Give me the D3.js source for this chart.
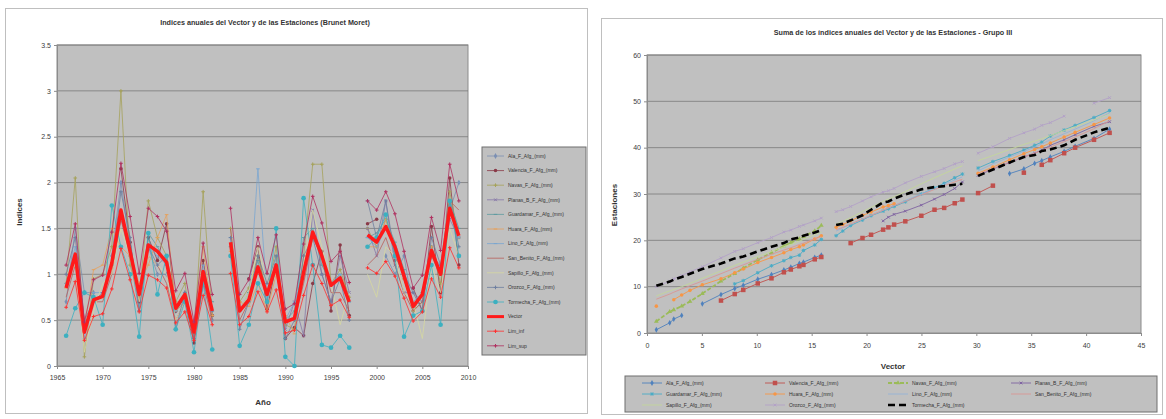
<!DOCTYPE html>
<html><head><meta charset="utf-8">
<script src="https://cdn.jsdelivr.net/npm/d3@7"></script>
<style>
body{margin:0;background:#fff;}
svg{display:block;font-family:"Liberation Sans",Arial,sans-serif;}
</style></head><body>
<svg id="c" width="1166" height="419"></svg>
<script>
// ---------- DATA (left chart: annual indices) ----------
const years = [1966,1967,1968,1969,1970,1971,1972,1973,1974,1975,1976,1977,1978,1979,1980,1981,1982,
  1984,1985,1986,1987,1988,1989,1990,1991,1992,1993,1994,1995,1996,1997,
  1999,2000,2001,2002,2003,2004,2005,2006,2007,2008,2009];
const stationNames = ["Ala_F_Afg_(mm)","Valencia_F_Afg_(mm)","Navas_F_Afg_(mm)","Planas_B_F_Afg_(mm)",
  "Guardamar_F_Afg_(mm)","Huara_F_Afg_(mm)","Lino_F_Afg_(mm)","San_Benito_F_Afg_(mm)",
  "Sapillo_F_Afg_(mm)","Orozco_F_Afg_(mm)","Tormecha_F_Afg_(mm)"];
const N = null;
const alaIdx = [0.7,1.5,0.8,0.8,N,1.2,2.0,1.3,0.7,1.3,1.0,1.0,0.6,0.8,0.3,1.0,0.5, N,N,N,N,N,N,N,N,N,N,N,N,N,N, N,N,1.2,1.0,1.2,0.6,0.8,1.2,1.1,1.7,2.0];
const valenciaIdx = [N,N,N,N,N,N,2.15,1.35,0.7,1.4,1.15,1.55,0.6,0.75,0.25,1.15,0.55, N,N,0.95,1.3,0.62,1.1,0.3,0.42,0.33,0.9,1.25,0.6,1.32,0.55, 1.55,1.6,N,1.15,N,0.85,0.6,1.52,0.8,2.05,1.1];
const navasIdx = [0.9,2.05,0.1,0.95,1.0,1.3,3.0,1.1,0.75,1.8,1.4,1.2,0.7,0.9,0.3,1.9,0.55, 1.5,0.7,0.85,1.2,0.8,1.3,0.45,0.4,1.2,2.2,2.2,0.9,1.05,0.75, 1.5,1.3,1.6,1.25,0.95,0.6,0.7,1.3,0.9,1.9,1.4];
const planasIdx = [N,N,N,N,N,N,N,N,N,N,N,N,N,N,N,N,N, N,N,N,N,N,1.2,0.4,0.7,0.33,1.7,1.0,0.7,1.2,0.8, 1.5,1.2,1.8,1.1,0.8,0.8,0.7,1.3,1.0,1.6,1.4];
const guardamarIdx = [N,N,N,N,N,N,N,1.2,0.6,1.45,1.3,1.1,0.6,0.7,0.35,0.9,0.7, 1.3,0.6,0.8,1.15,0.7,1.2,0.5,0.6,1.4,1.5,1.1,0.9,1.0,0.7, 1.4,1.45,1.6,1.35,1.05,0.6,0.8,1.3,1.0,1.8,1.5];
const huaraIdx = [0.85,1.2,0.4,1.05,1.1,1.5,1.3,1.2,0.9,1.1,1.4,1.65,0.6,0.7,0.4,1.3,0.55, 1.25,0.7,0.65,0.9,0.6,1.0,0.55,0.35,N,N,N,N,N,N, 1.3,1.3,1.6,1.3,0.95,0.6,0.8,1.3,1.0,1.7,1.4];
const linoIdx = [0.9,1.3,0.3,0.8,0.8,1.1,1.6,1.3,0.8,1.3,1.2,1.1,0.6,0.8,0.4,1.1,0.6, 1.4,0.6,0.7,2.15,0.75,1.1,0.5,0.7,1.0,1.4,1.2,0.9,1.0,0.7, 1.4,1.3,1.5,1.3,1.0,0.7,0.8,1.25,1.05,1.7,1.4];
const sanBenitoIdx = [0.75,1.1,0.35,0.7,0.7,1.0,1.6,1.2,0.7,1.2,1.1,0.9,0.5,0.7,0.3,0.9,0.5, 1.5,0.5,0.7,1.1,0.8,1.1,0.5,0.5,0.9,1.4,1.2,0.8,0.8,0.6, 1.1,1.2,1.4,1.1,0.8,0.6,0.7,1.2,1.0,1.8,1.7];
const sapilloIdx = [1.0,1.1,0.15,0.6,0.9,1.0,1.5,1.2,0.7,1.2,1.1,1.0,0.5,0.7,0.4,1.0,0.6, 1.2,0.6,0.8,1.3,0.9,1.2,0.5,0.5,1.1,1.7,1.3,0.9,0.45,0.8, 1.0,0.75,1.3,1.2,0.8,0.7,0.3,1.1,0.8,1.5,1.2];
const orozcoIdx = [1.0,1.4,0.5,0.7,0.8,1.1,1.9,1.4,0.6,1.3,1.1,1.2,0.4,0.8,0.3,0.9,0.6, 1.4,0.4,0.7,1.2,0.9,1.2,0.3,0.5,1.2,1.4,1.0,0.7,0.95,0.5, 1.8,1.4,1.8,1.2,1.0,0.8,0.6,1.4,1.1,1.8,1.3];
const tormechaIdx = [0.33,0.63,0.8,0.75,0.45,1.75,1.3,1.0,0.32,1.45,0.78,1.2,0.4,0.7,0.15,0.9,0.18, 1.2,0.22,0.45,0.9,0.7,1.5,0.1,0.0,1.83,1.1,0.23,0.2,0.33,0.2, 1.3,1.4,1.65,1.2,0.32,0.55,0.6,1.1,0.45,1.8,1.2];
const vectorIdx = [0.85,1.22,0.37,0.72,0.76,1.12,1.70,1.25,0.78,1.32,1.25,1.13,0.63,0.78,0.37,1.03,0.60, 1.35,0.60,0.72,1.08,0.78,1.10,0.48,0.52,1.02,1.46,1.20,0.88,0.96,0.70, 1.43,1.35,1.52,1.30,0.98,0.65,0.78,1.26,1.00,1.72,1.42];
const limInf = [0.64,0.92,0.28,0.54,0.57,0.84,1.28,0.94,0.59,0.99,0.94,0.85,0.47,0.59,0.28,0.77,0.45, 1.01,0.45,0.54,0.81,0.59,0.83,0.36,0.39,0.77,1.10,0.90,0.66,0.72,0.53, 1.07,1.01,1.14,0.98,0.74,0.49,0.59,0.95,0.75,1.29,1.07];
const limSup = [1.10,1.55,0.48,0.94,0.99,1.46,2.21,1.63,1.01,1.72,1.63,1.47,0.82,1.01,0.48,1.34,0.78, 1.72,0.78,0.94,1.40,1.01,1.43,0.62,0.68,1.33,1.85,1.56,1.14,1.25,0.91, 1.80,1.70,1.90,1.66,1.25,0.85,0.99,1.62,1.26,2.20,1.80];
const leftYTicks = [0,0.5,1,1.5,2,2.5,3,3.5];
const leftXTicks = [1965,1970,1975,1980,1985,1990,1995,2000,2005,2010];

// ---------- DATA (right chart: cumulative sums) ----------
const vectorCum = [0.85,2.07,2.44,3.16,3.92,5.04,6.74,7.99,8.77,10.09,11.34,12.47,13.10,13.88,14.25,15.28,15.88,
  17.23,17.83,18.55,19.63,20.41,21.51,21.99,22.51,23.53,24.99,26.19,27.07,28.03,28.73,
  30.16,31.51,33.03,34.33,35.31,35.96,36.74,38.00,39.00,40.72,42.14];
const alaCum = [0.7,2.2,3.0,3.8,N,6.3,8.3,9.6,10.3,11.6,12.6,13.6,14.2,15.0,15.3,16.3,16.8, N,N,N,N,N,N,N,N,N,N,N,N,N,N, N,N,34.4,35.4,36.6,37.2,38.0,39.2,40.3,42.0,44.0];
const valenciaCum = [N,N,N,N,N,N,7.0,8.4,9.3,10.7,11.8,13.1,13.7,14.4,14.7,15.9,16.4, N,N,19.4,20.5,21.2,22.3,22.8,23.4,24.1,25.3,26.6,27.0,28.0,28.8, 30.2,31.8,N,34.6,N,36.3,37.3,38.8,40.0,41.7,43.2];
const navasCum = [2.5,4.6,5.0,5.8,6.8,8.5,11.2,12.8,14.0,15.8,17.3,18.8,19.5,20.3,20.8,22.0,23.2, N,N,N,N,N,N,N,N,N,N,N,N,N,N, N,N,N,N,N,N,N,N,N,N,N];
const planasCum = [N,N,N,N,N,N,N,N,N,N,N,N,N,N,N,N,N, N,N,N,N,N,24.2,25.0,25.6,26.3,27.6,28.9,29.9,31.2,32.6, 34.0,35.4,36.8,38.0,38.8,39.5,40.5,41.7,42.8,44.6,45.6];
const guardamarCum = [N,N,N,N,N,N,N,10.6,11.3,13.0,14.5,15.6,16.3,16.8,17.8,19.0,20.2, 21.0,22.0,23.2,24.4,25.3,26.3,26.8,27.3,28.3,30.0,31.3,32.3,33.5,34.3, 35.6,37.0,38.3,39.5,40.5,41.2,42.5,43.8,44.8,46.5,48.0];
const huaraCum = [5.8,N,7.2,8.2,9.2,10.4,11.7,13.0,13.8,15.2,16.3,17.3,18.0,18.6,19.0,20.3,21.0, 22.8,23.4,24.2,25.4,26.1,27.2,27.5,27.9,N,N,N,N,N,N, 34.5,35.8,37.4,38.7,39.6,40.2,41.0,42.3,43.3,45.0,46.4];
const linoCum = [N,N,N,N,N,N,N,N,N,N,N,N,N,N,N,N,N, 22.0,22.7,23.5,24.6,25.4,26.5,27.0,27.5,28.6,30.0,31.2,32.1,33.0,33.7, 35.0,36.5,38.0,39.2,40.1,40.8,41.7,43.0,44.0,45.8,47.5];
const sanBenitoCum = [7.3,8.4,8.8,9.5,10.2,11.2,12.8,14.0,14.7,15.9,17.0,17.9,18.4,19.1,19.4,20.3,20.8, 22.3,22.8,23.5,24.6,25.4,26.5,27.0,27.5,28.4,29.8,31.0,31.8,32.6,33.2, 34.3,35.5,36.9,38.0,38.8,39.4,40.1,41.3,42.3,44.1,45.8];
const sapilloCum = [8.0,9.1,9.4,10.0,10.7,11.8,13.4,14.6,15.3,16.5,17.6,18.6,19.1,19.8,20.2,21.2,21.8, 23.5,24.1,24.9,26.2,27.1,28.4,28.9,29.4,30.5,32.2,33.5,34.4,35.4,36.1, 37.2,38.3,39.6,40.7,41.4,41.9,42.6,43.7,44.5,46.0,47.2];
const orozcoCum = [10.0,11.2,11.7,12.4,13.2,14.3,16.2,17.6,18.2,19.5,20.6,21.8,22.2,23.0,23.3,24.2,24.8, 26.2,26.6,27.3,28.5,29.4,30.4,30.7,31.2,32.4,33.8,34.8,35.5,36.5,37.0, 38.8,40.2,42.0,43.2,44.0,44.8,45.4,46.8,N,49.6,50.8];
const tormechaCum = [10.2,11.1,11.5,12.1,12.8,13.8,15.0,16.1,16.5,17.6,18.6,19.4,20.2,20.6,21.0,21.7,22.2, 23.3,23.6,24.3,25.4,26.6,28.2,28.4,29.0,29.9,31.0,31.5,31.7,32.0,32.2, 33.9,35.3,36.8,38.0,38.4,39.3,39.6,40.5,41.7,43.3,44.3];
const rightXTicks = [0,5,10,15,20,25,30,35,40,45];
const rightYTicks = [0,10,20,30,40,50,60];

// ---------- DRAW ----------
const svg = d3.select("#c");
const font = "'Liberation Sans',Arial,sans-serif";

function marker(g, type, x, y, color, size) {
  const s = size || 3;
  if (type === "none") return;
  if (type === "plus" || type === "x" || type === "star" || type === "dash") {
    const p = [];
    if (type === "plus" || type === "star") p.push([x-s,y,x+s,y],[x,y-s,x,y+s]);
    if (type === "x" || type === "star") p.push([x-s*0.75,y-s*0.75,x+s*0.75,y+s*0.75],[x-s*0.75,y+s*0.75,x+s*0.75,y-s*0.75]);
    if (type === "dash") p.push([x-s,y,x+s,y]);
    p.forEach(q => g.append("line").attr("x1",q[0]).attr("y1",q[1]).attr("x2",q[2]).attr("y2",q[3])
      .attr("stroke",color).attr("stroke-width",1));
    return;
  }
  const map = {circle:d3.symbolCircle, square:d3.symbolSquare, diamond:d3.symbolDiamond, triangle:d3.symbolTriangle};
  g.append("path").attr("d", d3.symbol().type(map[type]).size(s*s*3)())
    .attr("transform",`translate(${x},${y})`).attr("fill",color);
}

function segmentsOf(xs, ys, breakFn) {
  const segs = []; let cur = [];
  xs.forEach((x,i) => {
    if (i>0 && breakFn(i)) { if (cur.length) segs.push(cur); cur = []; }
    if (ys[i] == null) { if (cur.length) segs.push(cur); cur = []; return; }
    cur.push([x, ys[i]]);
  });
  if (cur.length) segs.push(cur);
  return segs;
}
const yearBreak = i => years[i] - years[i-1] > 1;

// ===== LEFT CHART =====
svg.append("rect").attr("x",5.5).attr("y",8.5).attr("width",582).attr("height",405)
  .attr("fill","#fff").attr("stroke","#bfbfbf");
const L = {x0:57, x1:468, y0:45, y1:366};
const lx = d3.scaleLinear().domain([1965,2010]).range([L.x0,L.x1]);
const ly = d3.scaleLinear().domain([0,3.5]).range([L.y1,L.y0]);
svg.append("rect").attr("x",L.x0).attr("y",L.y0).attr("width",L.x1-L.x0).attr("height",L.y1-L.y0)
  .attr("fill","#c0c0c0").attr("stroke","#8c8c8c");
const lg = svg.append("g");
leftYTicks.slice(1).forEach(t => lg.append("line").attr("x1",L.x0).attr("x2",L.x1)
  .attr("y1",ly(t)).attr("y2",ly(t)).attr("stroke","#7a7a7a").attr("stroke-width",0.8));
const lax = svg.append("g").attr("transform",`translate(0,${L.y1})`)
  .call(d3.axisBottom(lx).tickValues(leftXTicks).tickFormat(d3.format("d")).tickSize(3));
const lay = svg.append("g").attr("transform",`translate(${L.x0},0)`)
  .call(d3.axisLeft(ly).tickValues(leftYTicks).tickFormat(d => String(d)).tickSize(3));
[lax,lay].forEach(a => { a.select(".domain").attr("stroke","#8c8c8c");
  a.selectAll(".tick line").attr("stroke","#8c8c8c");
  a.selectAll("text").attr("fill","#404040").attr("font-size",7).attr("font-family",font); });
lax.selectAll("text").attr("dy","1.1em");

const leftSeries = [
  {name:stationNames[0], data:alaIdx, color:"#7b8fb3", m:"diamond", w:0.8},
  {name:stationNames[1], data:valenciaIdx, color:"#8a3a48", m:"circle", w:0.8},
  {name:stationNames[2], data:navasIdx, color:"#a6a25a", m:"plus", w:0.8},
  {name:stationNames[3], data:planasIdx, color:"#8878a8", m:"x", w:0.8},
  {name:stationNames[4], data:guardamarIdx, color:"#5e9aa0", m:"dash", w:0.8},
  {name:stationNames[5], data:huaraIdx, color:"#e6a05a", m:"dash", w:0.8},
  {name:stationNames[6], data:linoIdx, color:"#7aa6d0", m:"dash", w:0.8},
  {name:stationNames[7], data:sanBenitoIdx, color:"#b8605a", m:"none", w:0.8},
  {name:stationNames[8], data:sapilloIdx, color:"#d5d8a0", m:"none", w:0.8},
  {name:stationNames[9], data:orozcoIdx, color:"#6e7fa0", m:"plus", w:0.8},
  {name:stationNames[10], data:tormechaIdx, color:"#3cb0c0", m:"circle", w:0.8, ms:2.4},
  {name:"Vector", data:vectorIdx, color:"#ff1a1a", m:"none", w:3.5},
  {name:"Lim_inf", data:limInf, color:"#ff3030", m:"plus", w:0.8},
  {name:"Lim_sup", data:limSup, color:"#b03060", m:"plus", w:0.8}
];
const lline = d3.line().x(d => lx(d[0])).y(d => ly(d[1]));
const plotL = svg.append("g");
leftSeries.forEach(s => {
  const g = plotL.append("g");
  segmentsOf(years, s.data, yearBreak).forEach(seg => {
    g.append("path").attr("d", lline(seg)).attr("fill","none").attr("stroke",s.color)
      .attr("stroke-width",s.w).attr("stroke-linejoin","round");
  });
  years.forEach((yr,i) => { if (s.data[i] != null) marker(g, s.m, lx(yr), ly(s.data[i]), s.color, s.ms || 1.8); });
});
svg.append("text").attr("x",265).attr("y",25).attr("text-anchor","middle").attr("font-size",7.2)
  .attr("font-weight","bold").attr("fill","#333").attr("font-family",font)
  .text("Indices anuales del Vector y de las Estaciones (Brunet Moret)");
svg.append("text").attr("x",263).attr("y",405).attr("text-anchor","middle").attr("font-size",8)
  .attr("font-weight","bold").attr("fill","#333").attr("font-family",font).text("Año");
svg.append("text").attr("transform","translate(22,212) rotate(-90)").attr("text-anchor","middle")
  .attr("font-size",8).attr("font-weight","bold").attr("fill","#333").attr("font-family",font).text("Indices");
// left legend
const LL = {x:482, y:147, w:104, h:208};
svg.append("rect").attr("x",LL.x).attr("y",LL.y).attr("width",LL.w).attr("height",LL.h)
  .attr("fill","#c0c0c0").attr("stroke","#6e6e6e");
leftSeries.forEach((s,i) => {
  const y = LL.y + 9 + i*14.6;
  const g = svg.append("g");
  g.append("line").attr("x1",LL.x+5).attr("x2",LL.x+22).attr("y1",y).attr("y2",y)
    .attr("stroke",s.color).attr("stroke-width",Math.min(s.w,3));
  marker(g, s.m, LL.x+13.5, y, s.color, s.ms || 1.8);
  g.append("text").attr("x",LL.x+26).attr("y",y+1.8).attr("font-size",5).attr("fill","#333")
    .attr("font-family",font).text(s.name);
});

// ===== RIGHT CHART =====
svg.append("rect").attr("x",601.5).attr("y",18.5).attr("width",561).attr("height",396)
  .attr("fill","#fff").attr("stroke","#bfbfbf");
const R = {x0:647, x1:1141, y0:55, y1:333};
const rx = d3.scaleLinear().domain([0,45]).range([R.x0,R.x1]);
const ry = d3.scaleLinear().domain([0,60]).range([R.y1,R.y0]);
svg.append("rect").attr("x",R.x0).attr("y",R.y0).attr("width",R.x1-R.x0).attr("height",R.y1-R.y0)
  .attr("fill","#c0c0c0").attr("stroke","#8c8c8c");
rightYTicks.slice(1).forEach(t => svg.append("line").attr("x1",R.x0).attr("x2",R.x1)
  .attr("y1",ry(t)).attr("y2",ry(t)).attr("stroke","#7a7a7a").attr("stroke-width",0.8));
const rax = svg.append("g").attr("transform",`translate(0,${R.y1})`)
  .call(d3.axisBottom(rx).tickValues(rightXTicks).tickFormat(d3.format("d")).tickSize(3));
const ray = svg.append("g").attr("transform",`translate(${R.x0},0)`)
  .call(d3.axisLeft(ry).tickValues(rightYTicks).tickFormat(d3.format("d")).tickSize(3));
[rax,ray].forEach(a => { a.select(".domain").attr("stroke","#8c8c8c");
  a.selectAll(".tick line").attr("stroke","#8c8c8c");
  a.selectAll("text").attr("fill","#404040").attr("font-size",7).attr("font-family",font); });
rax.selectAll("text").attr("dy","1.3em");

const rightSeries = [
  {name:stationNames[0], data:alaCum, color:"#4f81bd", m:"diamond", w:0.9},
  {name:stationNames[1], data:valenciaCum, color:"#c0504d", m:"square", w:0.9, ms:2.6},
  {name:stationNames[2], data:navasCum, color:"#9bbb59", m:"triangle", w:1.8, dash:"4,2"},
  {name:stationNames[3], data:planasCum, color:"#8064a2", m:"x", w:0.9},
  {name:stationNames[4], data:guardamarCum, color:"#4bacc6", m:"star", w:0.9},
  {name:stationNames[5], data:huaraCum, color:"#f79646", m:"circle", w:0.9},
  {name:stationNames[6], data:linoCum, color:"#95b3d7", m:"none", w:0.9},
  {name:stationNames[7], data:sanBenitoCum, color:"#d99694", m:"none", w:0.9},
  {name:stationNames[8], data:sapilloCum, color:"#c3d69b", m:"none", w:0.9},
  {name:stationNames[9], data:orozcoCum, color:"#b3a2c7", m:"x", w:0.9},
  {name:stationNames[10], data:tormechaCum, color:"#000000", m:"none", w:2.6, dash:"7,4"}
];
const rline = d3.line().x(d => rx(d[0])).y(d => ry(d[1]));
rightSeries.forEach(s => {
  const g = svg.append("g");
  segmentsOf(vectorCum, s.data, yearBreak).forEach(seg => {
    g.append("path").attr("d", rline(seg)).attr("fill","none").attr("stroke",s.color)
      .attr("stroke-width",s.w).attr("stroke-dasharray",s.dash || null);
  });
  vectorCum.forEach((x,i) => { if (s.data[i] != null) marker(g, s.m, rx(x), ry(s.data[i]), s.color, s.ms || 1.8); });
});
svg.append("text").attr("x",893).attr("y",35).attr("text-anchor","middle").attr("font-size",7.2)
  .attr("font-weight","bold").attr("fill","#333").attr("font-family",font)
  .text("Suma de los índices anuales del Vector y de las Estaciones - Grupo III");
svg.append("text").attr("x",893).attr("y",369).attr("text-anchor","middle").attr("font-size",8)
  .attr("font-weight","bold").attr("fill","#333").attr("font-family",font).text("Vector");
svg.append("text").attr("transform","translate(617,205) rotate(-90)").attr("text-anchor","middle")
  .attr("font-size",8).attr("font-weight","bold").attr("fill","#333").attr("font-family",font).text("Estaciones");
// right legend
const RL = {x:625, y:376, w:532, h:36};
svg.append("rect").attr("x",RL.x).attr("y",RL.y).attr("width",RL.w).attr("height",RL.h)
  .attr("fill","#c0c0c0").attr("stroke","#6e6e6e");
rightSeries.forEach((s,i) => {
  const col = i % 4, row = Math.floor(i/4);
  const x = RL.x + 17 + col*123, y = RL.y + 7 + row*11;
  const g = svg.append("g");
  g.append("line").attr("x1",x).attr("x2",x+20).attr("y1",y).attr("y2",y)
    .attr("stroke",s.color).attr("stroke-width",s.w).attr("stroke-dasharray",s.dash || null);
  marker(g, s.m, x+10, y, s.color, s.ms || 1.8);
  g.append("text").attr("x",x+24).attr("y",y+1.8).attr("font-size",5).attr("fill","#333")
    .attr("font-family",font).text(s.name);
});
</script>
</body></html>
